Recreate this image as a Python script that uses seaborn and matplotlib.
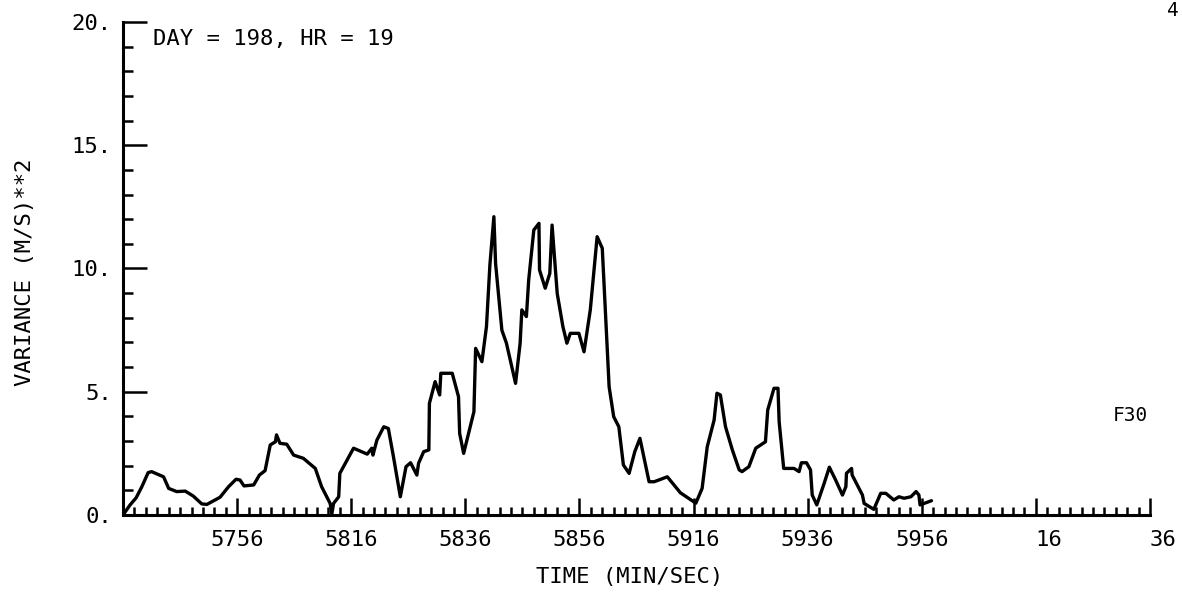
import matplotlib
matplotlib.use("Agg")
import matplotlib.pyplot as plt
from matplotlib.ticker import MultipleLocator
import seaborn as sns

# time in seconds after 57:36, variance in (m/s)**2
time_s = [0, 1.2, 2.3, 3.3, 4.4, 5.0, 7.1, 8.0, 9.4, 10.9, 12.3, 13.8, 14.7,
          17.0, 18.5, 19.8, 20.5, 21.2, 22.9, 23.9, 24.9, 25.8, 26.7, 26.9,
          27.5, 28.7, 29.9, 31.6, 33.7, 34.8, 36.3, 36.6, 36.9, 37.8, 38.0,
          40.4, 42.8, 43.6, 43.8, 44.5, 45.7, 46.5, 47.4, 48.6, 49.6, 50.4,
          51.5, 51.8, 52.7, 53.6, 53.7, 54.7, 55.5, 55.7, 57.7, 58.8, 59.0,
          59.7, 61.5, 61.8, 62.9, 63.7, 64.3, 65.0, 65.3, 66.4, 67.2, 68.8,
          69.6, 69.9, 70.7, 71.1, 72.0, 72.9, 73.0, 74.0, 74.8, 75.2, 76.1,
          77.1, 77.8, 78.4, 79.9, 80.8, 81.9, 83.1, 84.0, 85.2, 86.0, 86.9,
          87.7, 88.7, 89.7, 90.6, 92.2, 93.1, 95.4, 97.7, 100.4, 101.5, 102.4,
          103.6, 104.1, 104.7, 105.6, 106.8, 108.0, 108.5, 109.7, 110.9, 112.6,
          113.0, 114.1, 114.8, 115.0, 115.8, 117.6, 118.5, 118.9, 119.8, 120.5,
          120.8, 121.6, 122.9, 123.8, 124.9, 126.1, 126.7, 126.8, 127.7, 127.8,
          129.6, 129.9, 131.6, 132.8, 133.7, 135.1, 136.0, 136.9, 138.1, 139.0,
          139.5, 139.7, 140.4, 141.7]
variance = [0, 0.4, 0.7, 1.15, 1.72, 1.76, 1.55, 1.08, 0.95, 0.97, 0.77, 0.45, 0.43,
            0.72, 1.15, 1.45, 1.42, 1.18, 1.22, 1.62, 1.8, 2.84, 2.97, 3.25,
            2.91, 2.87, 2.43, 2.3, 1.89, 1.15, 0.47, 0.05, 0.47, 0.74, 1.69,
            2.71, 2.47, 2.71, 2.43, 3.04, 3.58, 3.51, 2.36, 0.74, 1.96, 2.12,
            1.62, 2.1, 2.57, 2.64, 4.53, 5.41, 4.87, 5.75, 5.75, 4.8, 3.31,
            2.5, 4.19, 6.76, 6.22, 7.64, 10.14, 12.1, 10.2, 7.5, 6.97, 5.34,
            6.97, 8.32, 8.05, 9.53, 11.56, 11.83, 9.94, 9.2, 9.8, 11.76, 8.99,
            7.64, 6.97, 7.37, 7.37, 6.62, 8.32, 11.29, 10.82, 5.2, 3.99, 3.58,
            2.03, 1.69, 2.57, 3.11, 1.35, 1.35, 1.55, 0.9, 0.48, 1.08, 2.77,
            3.85, 4.94, 4.87, 3.58, 2.64, 1.83, 1.76, 1.96, 2.71, 2.97,
            4.26, 5.14, 5.14, 3.79, 1.89, 1.89, 1.76, 2.12, 2.12, 1.83,
            0.81, 0.41, 1.29, 1.94, 1.42, 0.81, 1.15, 1.69, 1.89, 1.62,
            0.81, 0.47, 0.23, 0.88, 0.88, 0.61, 0.74, 0.68, 0.74, 0.95,
            0.81, 0.41, 0.47, 0.58]

x_ticks = [20, 40, 60, 80, 100, 120, 140, 160, 180]
x_labels = ["5756", "5816", "5836", "5856", "5916", "5936", "5956", "16", "36"]
y_ticks = [0, 5, 10, 15, 20]
y_labels = ["0.", "5.", "10.", "15.", "20."]

sns.set_style("ticks")
plt.rcParams["font.family"] = ["DejaVu Sans Mono"]
plt.rcParams["text.color"] = "black"
plt.rcParams["axes.labelcolor"] = "black"
plt.rcParams["xtick.color"] = "black"
plt.rcParams["ytick.color"] = "black"

fig, ax = plt.subplots(figsize=(11.82, 6.02), dpi=100)
fig.subplots_adjust(left=0.1041, right=0.9729, bottom=0.1445, top=0.9635)

sns.lineplot(x=time_s, y=variance, color="black", linewidth=2.4, ax=ax)

ax.set_xlim(0, 180)
ax.set_ylim(0, 20)
sns.despine(ax=ax)
for s in ["left", "bottom"]:
    ax.spines[s].set_linewidth(2.2)
    ax.spines[s].set_color("black")

ax.set_xticks(x_ticks)
ax.set_xticklabels(x_labels, fontsize=16)
for lab in ax.get_xticklabels()[-2:]:
    lab.set_horizontalalignment("left")
ax.xaxis.set_minor_locator(MultipleLocator(2))
ax.set_yticks(y_ticks)
ax.set_yticklabels(y_labels, fontsize=16)
ax.yaxis.set_minor_locator(MultipleLocator(1))

ax.tick_params(axis="x", which="major", direction="in", length=12, width=1.8, pad=11)
ax.tick_params(axis="x", which="minor", direction="in", length=6, width=1.8)
ax.tick_params(axis="y", which="major", direction="in", length=17, width=1.8, pad=8)
ax.tick_params(axis="y", which="minor", direction="in", length=7, width=1.8)

ax.set_xlabel("TIME (MIN/SEC)", fontsize=16)
ax.xaxis.set_label_coords(0.493, -0.105)
ax.set_ylabel("VARIANCE (M/S)**2", fontsize=16)
ax.yaxis.set_label_coords(-0.0857, 0.493)

ax.text(5.3, 19.3, "DAY = 198, HR = 19", fontsize=16, va="center", ha="left")
ax.text(176.5, 4.05, "F30", fontsize=14, va="center", ha="center")
fig.text(0.992, 0.983, "4", fontsize=14, va="center", ha="center")

plt.savefig("out.png", dpi=100)
